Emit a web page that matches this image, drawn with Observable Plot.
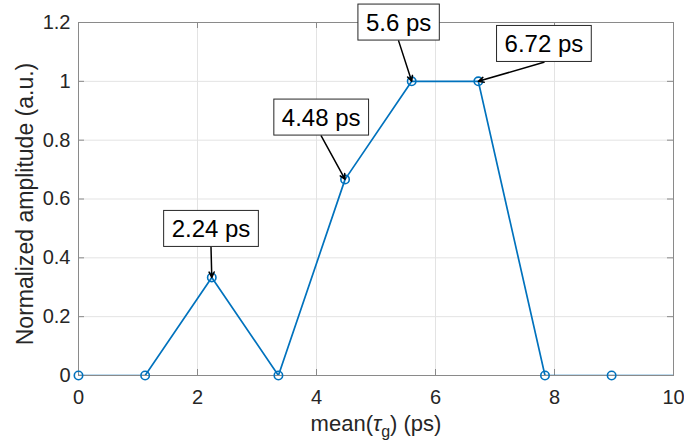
<!DOCTYPE html>
<html>
<head>
<meta charset="utf-8">
<script src="https://cdn.jsdelivr.net/npm/d3@7"></script>
<script src="https://cdn.jsdelivr.net/npm/@observablehq/plot@0.6"></script>
<style>
  html, body { margin: 0; padding: 0; background: #fff; }
  #chart { width: 684px; height: 446px; }
</style>
</head>
<body>
<div id="chart"></div>
<script>
// ---- data ----
const tau = [0, 1.12, 2.24, 3.36, 4.48, 5.6, 6.72, 7.84, 8.96, 10.08];
const amp = [0, 0, 0.3333, 0, 0.6667, 1, 1, 0, 0, 0];

const xTicks = [0, 2, 4, 6, 8, 10];
const yTicks = [0, 0.2, 0.4, 0.6, 0.8, 1, 1.2];
const yTickLabels = ["0", "0.2", "0.4", "0.6", "0.8", "1", "1.2"];

const annLabels = ["2.24 ps", "4.48 ps", "5.6 ps", "6.72 ps"];
const annTailX = [2.227, 4.079, 5.380, 7.822];
const annTailY = [0.436, 0.8145, 1.1375, 1.0648];
const annTargetX = [2.24, 4.48, 5.6, 6.72];
const annTargetY = [0.3333, 0.6667, 1, 1];

const xLabel = "mean(τg) (ps)";
const yLabel = "Normalized amplitude (a.u.)";

// ---- build ----
const W = 684, H = 446;
const mL = 78, mR = 11, mT = 22, mB = 71;
const plotW = W - mL - mR, plotH = H - mT - mB;
const tickLen = 6;
const axisColor = "#8a8a8a";
const textColor = "#262626";
const lineColor = "#0072BD";

const data = tau.map((x, i) => ({x, y: amp[i]}));
const ann = annLabels.map((t, i) => ({t, x1: annTailX[i], y1: annTailY[i], x2: annTargetX[i], y2: annTargetY[i]}));

const svg = Plot.plot({
  width: W, height: H,
  marginLeft: mL, marginRight: mR, marginTop: mT, marginBottom: mB,
  style: {fontFamily: "'Liberation Sans', Arial, Helvetica, sans-serif", fontSize: "20px", color: textColor, background: "#fff", overflow: "visible"},
  x: {domain: [0, 10]},
  y: {domain: [0, 1.2]},
  marks: [
    Plot.ruleX(xTicks, {stroke: "#e3e3e3", strokeWidth: 1}),
    Plot.ruleY(yTicks, {stroke: "#e3e3e3", strokeWidth: 1}),
    Plot.tickX(xTicks, {stroke: axisColor, insetTop: plotH - tickLen}),
    Plot.tickX(xTicks, {stroke: axisColor, insetBottom: plotH - tickLen}),
    Plot.tickY(yTicks, {stroke: axisColor, insetRight: plotW - tickLen}),
    Plot.tickY(yTicks, {stroke: axisColor, insetLeft: plotW - tickLen}),
    Plot.frame({stroke: axisColor, strokeWidth: 1}),
    Plot.axisX({ticks: xTicks, tickSize: 0, tickPadding: 14.5, label: null, fill: textColor, fontSize: 20}),
    Plot.axisY({ticks: yTicks, tickSize: 0, tickPadding: 8, label: null, fill: textColor, fontSize: 20,
      tickFormat: d => yTickLabels[yTicks.indexOf(d)]}),
    Plot.text([yLabel], {frameAnchor: "left", text: d => d, rotate: -90, textAnchor: "middle", lineAnchor: "bottom", dx: -46, dy: 5, fontSize: 23, fill: textColor}),
    Plot.text([xLabel], {frameAnchor: "bottom", text: d => d, textAnchor: "middle", lineAnchor: "bottom", dy: 55, fontSize: 22, fill: textColor}),
    Plot.line(data, {x: "x", y: "y", stroke: lineColor, strokeWidth: 1.7, clip: true}),
    Plot.dot(data, {x: "x", y: "y", r: 4.2, stroke: lineColor, strokeWidth: 1.6, fill: "none", filter: d => d.x <= 10}),
    Plot.arrow(ann, {x1: "x1", y1: "y1", x2: "x2", y2: "y2", stroke: "#000", strokeWidth: 1.5, headLength: 6, headAngle: 50}),
    Plot.text(ann, {x: "x1", y: "y1", text: "t", dy: -18, textAnchor: "middle", lineAnchor: "middle", fontSize: 24, fill: "#000"})
  ]
});

document.getElementById("chart").appendChild(svg);

const NS = "http://www.w3.org/2000/svg";
const allTexts = Array.from(svg.querySelectorAll("text"));

// boxes behind annotation labels
allTexts.filter(t => annLabels.includes(t.textContent)).forEach(t => {
  const b = t.getBBox();
  const padX = 8, padY = 4.5;
  const r = document.createElementNS(NS, "rect");
  r.setAttribute("x", b.x - padX);
  r.setAttribute("y", b.y - padY);
  r.setAttribute("width", b.width + 2 * padX);
  r.setAttribute("height", b.height + 2 * padY);
  r.setAttribute("fill", "#fff");
  r.setAttribute("stroke", "#262626");
  r.setAttribute("stroke-width", 1);
  if (t.getAttribute("transform")) r.setAttribute("transform", t.getAttribute("transform"));
  t.parentNode.insertBefore(r, t);
});

// subscript in x label
allTexts.filter(t => t.textContent === xLabel).forEach(t => {
  const full = t.textContent;
  const i = full.indexOf("τ");
  t.textContent = "";
  const a = document.createElementNS(NS, "tspan"); a.textContent = full.slice(0, i);
  const tauS = document.createElementNS(NS, "tspan"); tauS.textContent = "τ"; tauS.setAttribute("font-style", "italic");
  const g = document.createElementNS(NS, "tspan"); g.textContent = full.slice(i + 1, i + 2);
  g.setAttribute("dy", "6"); g.setAttribute("font-size", "16");
  const rest = document.createElementNS(NS, "tspan"); rest.textContent = full.slice(i + 2);
  rest.setAttribute("dy", "-6");
  t.appendChild(a); t.appendChild(tauS); t.appendChild(g); t.appendChild(rest);
});
</script>
</body>
</html>
